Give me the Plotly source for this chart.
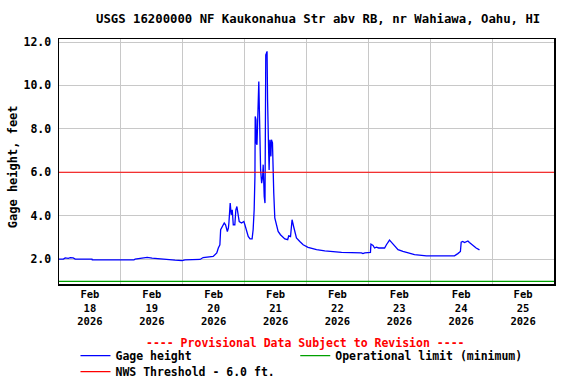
import pandas as pd
import plotly.graph_objects as go

# ---- data (hours since 2026-02-18 00:00, gage height in feet) ----
hours = [0.0, 1.7, 2.4, 3.6, 4.4, 5.5, 6.3, 12.8, 12.9, 29.1, 29.5, 31.5, 34.2, 36.1, 39.2,
         45.0, 47.7, 48.9, 54.7, 55.9, 59.8, 61.2, 61.8, 62.4, 62.7, 63.3, 64.1, 64.6, 65.3,
         65.7, 65.9, 66.4, 66.8, 67.2, 67.6, 68.2, 68.6, 69.0, 69.4, 69.9, 70.8, 71.7, 72.1,
         72.8, 73.4, 74.1, 74.9, 75.3, 75.7, 76.0, 76.1, 76.4, 76.5, 76.8, 77.0, 77.3, 77.5,
         77.8, 78.0, 78.2, 78.6, 79.0, 79.2, 79.3, 79.6, 79.9, 80.1, 80.2, 80.5, 80.7, 80.9,
         81.0, 81.3, 81.5, 81.8, 82.2, 82.4, 82.8, 83.0, 83.3, 83.7, 84.4, 85.0, 85.9, 86.7,
         87.6, 88.7, 89.1, 89.8, 90.2, 90.4, 91.0, 91.5, 92.1, 93.4, 94.7, 96.6, 99.9, 103.1,
         106.3, 109.6, 117.3, 117.9, 118.6, 120.8, 121.0, 121.8, 122.4, 123.1, 124.0, 126.3,
         127.0, 127.6, 128.2, 128.9, 130.2, 131.5, 133.4, 136.0, 137.9, 142.5, 153.4, 154.7,
         155.7, 156.0, 156.6, 157.3, 158.6, 159.2, 160.5, 161.8, 163.1]
gage = [2.0, 2.0, 2.05, 2.03, 2.06, 2.05, 2.0, 2.0, 1.96, 1.96, 2.0, 2.04, 2.08, 2.04, 2.0,
        1.95, 1.93, 1.96, 1.98, 2.07, 2.12, 2.28, 2.51, 2.66, 3.35, 3.5, 3.66, 3.58, 3.27,
        3.43, 3.66, 4.58, 4.04, 4.27, 3.58, 3.58, 4.27, 4.42, 4.04, 3.73, 3.66, 3.73, 3.58,
        3.27, 3.04, 2.93, 2.93, 3.35, 4.27, 5.81, 8.57, 8.42, 7.35, 7.27, 8.42, 9.95, 10.18,
        8.42, 7.04, 6.12, 5.5, 5.81, 6.35, 5.65, 4.88, 4.58, 9.03, 11.41, 11.49, 11.57, 9.34,
        7.65, 7.04, 6.1, 7.5, 6.73, 7.5, 7.35, 6.04, 5.04, 3.89, 3.5, 3.27, 3.12, 3.01,
        2.93, 2.89, 3.07, 3.04, 3.66, 3.81, 3.5, 3.27, 2.97, 2.81, 2.66, 2.54, 2.43, 2.38,
        2.35, 2.31, 2.28, 2.25, 2.28, 2.31, 2.69, 2.63, 2.51, 2.55, 2.51, 2.51,
        2.66, 2.78, 2.87, 2.78, 2.58, 2.43, 2.35, 2.28, 2.2, 2.15, 2.15, 2.25,
        2.35, 2.78, 2.81, 2.76, 2.83, 2.76, 2.63, 2.51, 2.42]
operational_limit = 0.97
nws_threshold = 6.0
x_start, x_end = "2026-02-18", "2026-02-26"
tick_days = ["18", "19", "20", "21", "22", "23", "24", "25"]

title_text = "USGS 16200000 NF Kaukonahua Str abv RB, nr Wahiawa, Oahu, HI"
provisional = "---- Provisional Data Subject to Revision ----"

times = pd.Timestamp("2026-02-18") + pd.to_timedelta(hours, unit="h")

# plot area geometry (pixels)
W, H = 576, 384
L, R, T, B = 58.5, 554, 39.3, 284.3
def px_x(px):
    return (px - L) / (R - L)
def px_y(py):
    return (B - py) / (B - T)

FONT = "DejaVu Sans Mono"
LEG_FONT = dict(family=FONT, size=11.5, weight="bold", color="black")

fig = go.Figure()
fig.add_trace(go.Scatter(x=times, y=gage, mode="lines", name="Gage height",
                         line=dict(color="#0000ff", width=1.3), legend="legend"))
fig.add_trace(go.Scatter(x=[x_start, x_end], y=[operational_limit] * 2, mode="lines",
                         name="Operational limit (minimum)",
                         line=dict(color="#00a000", width=1.2), legend="legend2"))
fig.add_trace(go.Scatter(x=[x_start, x_end], y=[nws_threshold] * 2, mode="lines",
                         name="NWS Threshold - 6.0 ft.",
                         line=dict(color="#ff0000", width=1.2), legend="legend3"))

tickvals = [f"2026-02-{d} 12:00" for d in tick_days]
ticktext = [f"Feb<br>{d}<br>2026" for d in tick_days]

def leg(xpx, ypx):
    return dict(x=px_x(xpx), y=px_y(ypx), xanchor="left", yanchor="middle",
                font=LEG_FONT, bgcolor="rgba(0,0,0,0)", borderwidth=0)

fig.update_layout(
    width=W, height=H,
    margin=dict(l=L, r=W - R, t=T, b=H - B, autoexpand=False),
    paper_bgcolor="white", plot_bgcolor="white",
    font=dict(family=FONT, size=11, color="black", weight="bold"),
    showlegend=True,
    hovermode=False,
    legend=leg(75, 356),
    legend2=leg(295, 356),
    legend3=leg(75, 372),
    xaxis=dict(range=[x_start, x_end], type="date",
               tickmode="array", tickvals=tickvals, ticktext=ticktext,
               showgrid=False, ticks="", ticklen=0,
               tickfont=dict(family=FONT, size=10.5, weight="bold"),
               showline=True, linecolor="black", linewidth=1.5, mirror=True,
               minor=dict(tick0=x_start, dtick=86400000, showgrid=True,
                          gridcolor="#c8c8c8", gridwidth=1, ticks=""),
               zeroline=False),
    yaxis=dict(range=[0.85, 12.14], tick0=2, dtick=2, tickformat=".1f",
               showgrid=True, gridcolor="#c8c8c8", gridwidth=1, ticks="",
               tickfont=dict(family=FONT, size=11.5, weight="bold"),
               ticklabelstandoff=4,
               showline=True, linecolor="black", linewidth=1.5, mirror=True,
               zeroline=False),
    annotations=[
        dict(text=title_text, x=px_x(318), y=px_y(19), xref="paper", yref="paper",
             showarrow=False, xanchor="center", yanchor="middle",
             font=dict(family=FONT, size=12.3, weight="bold", color="black")),
        dict(text="Gage height, feet", x=px_x(12), y=px_y(167), xref="paper", yref="paper",
             showarrow=False, textangle=-90, xanchor="center", yanchor="middle",
             font=dict(family=FONT, size=12, weight="bold", color="black")),
        dict(text=provisional, x=px_x(305), y=px_y(343), xref="paper", yref="paper",
             showarrow=False, xanchor="center", yanchor="middle",
             font=dict(family=FONT, size=11.5, weight="bold", color="#ff0000")),
    ],
)

fig.write_html("out.html", config={"displayModeBar": False, "staticPlot": True},
               post_script="document.body.style.margin='0';document.body.style.overflow='hidden';")
